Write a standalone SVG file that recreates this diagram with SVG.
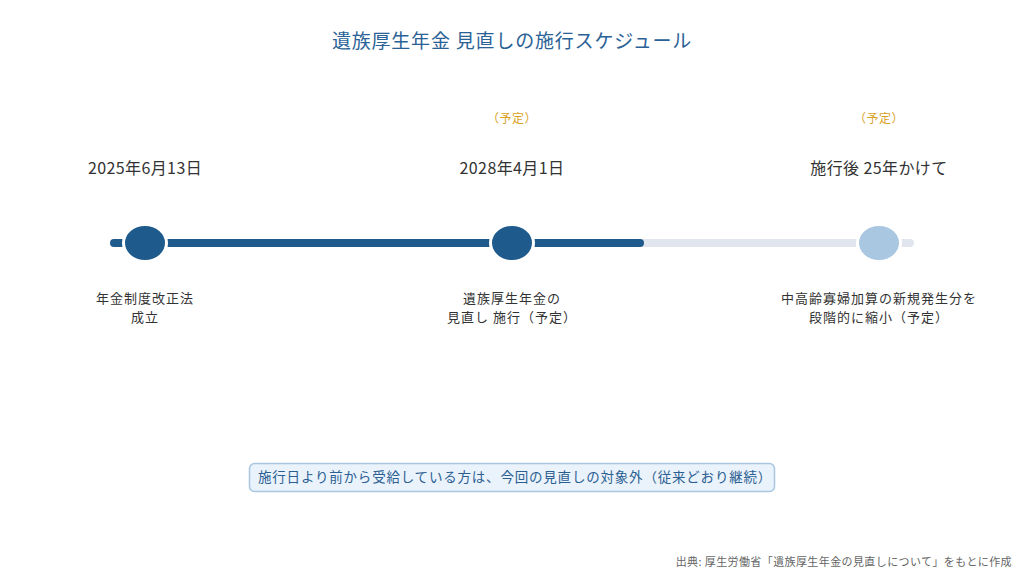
<svg xmlns="http://www.w3.org/2000/svg" width="1024" height="573" viewBox="0 0 1024 573">
<style>
text{font-family:"Noto Sans CJK JP","Noto Sans CJK SC",sans-serif}
.title{font-size:19px;fill:#2b6296;text-anchor:middle;letter-spacing:0.8px}
.date{font-size:16px;fill:#333;text-anchor:middle;letter-spacing:0.4px}
.plan{font-size:12px;fill:#d9a21f;text-anchor:middle;letter-spacing:0.5px}
.desc{font-size:13px;fill:#333;text-anchor:middle;letter-spacing:1px}
.note{font-size:13.5px;fill:#2b5f92;letter-spacing:0.8px}
.src{font-size:11px;fill:#666;text-anchor:end;letter-spacing:0.4px}
.node{stroke:#fff;stroke-width:3}
</style>
<rect width="1024" height="573" fill="#fff"/>
<text class="title" x="512" y="48">遺族厚生年金 見直しの施行スケジュール</text>
<g id="connectors">
<line x1="114" y1="243" x2="910" y2="243" stroke="#e1e6ee" stroke-width="8" stroke-linecap="round"/>
<line x1="114" y1="243" x2="640" y2="243" stroke="#1f5a8c" stroke-width="8" stroke-linecap="round"/>
</g>
<g id="node1">
<ellipse class="node" cx="145" cy="243" rx="21.5" ry="18.5" fill="#1f5a8c"/>
<text class="date" x="145" y="174">2025年6月13日</text>
<text class="desc" x="145" y="302.5">年金制度改正法</text>
<text class="desc" x="145" y="321.5">成立</text>
</g>
<g id="node2">
<ellipse class="node" cx="512" cy="243" rx="21.5" ry="18.5" fill="#1f5a8c"/>
<text class="plan" x="512" y="122.5">（予定）</text>
<text class="date" x="512" y="174">2028年4月1日</text>
<text class="desc" x="512" y="302.5">遺族厚生年金の</text>
<text class="desc" x="512" y="321.5">見直し 施行（予定）</text>
</g>
<g id="node3">
<ellipse class="node" cx="879" cy="243" rx="21.5" ry="18.5" fill="#a9c7e1"/>
<text class="plan" x="879" y="122.5">（予定）</text>
<text class="date" x="879" y="174">施行後 25年かけて</text>
<text class="desc" x="879" y="302.5">中高齢寡婦加算の新規発生分を</text>
<text class="desc" x="879" y="321.5">段階的に縮小（予定）</text>
</g>
<g id="note">
<rect x="249.5" y="463.5" width="525" height="28" rx="5" fill="#eaf2fb" stroke="#a9c7e1" stroke-width="1.5"/>
<text class="note" x="258" y="482">施行日より前から受給している方は、今回の見直しの対象外（従来どおり継続）</text>
</g>
<text class="src" x="1012" y="566">出典: 厚生労働省「遺族厚生年金の見直しについて」をもとに作成</text>
</svg>
